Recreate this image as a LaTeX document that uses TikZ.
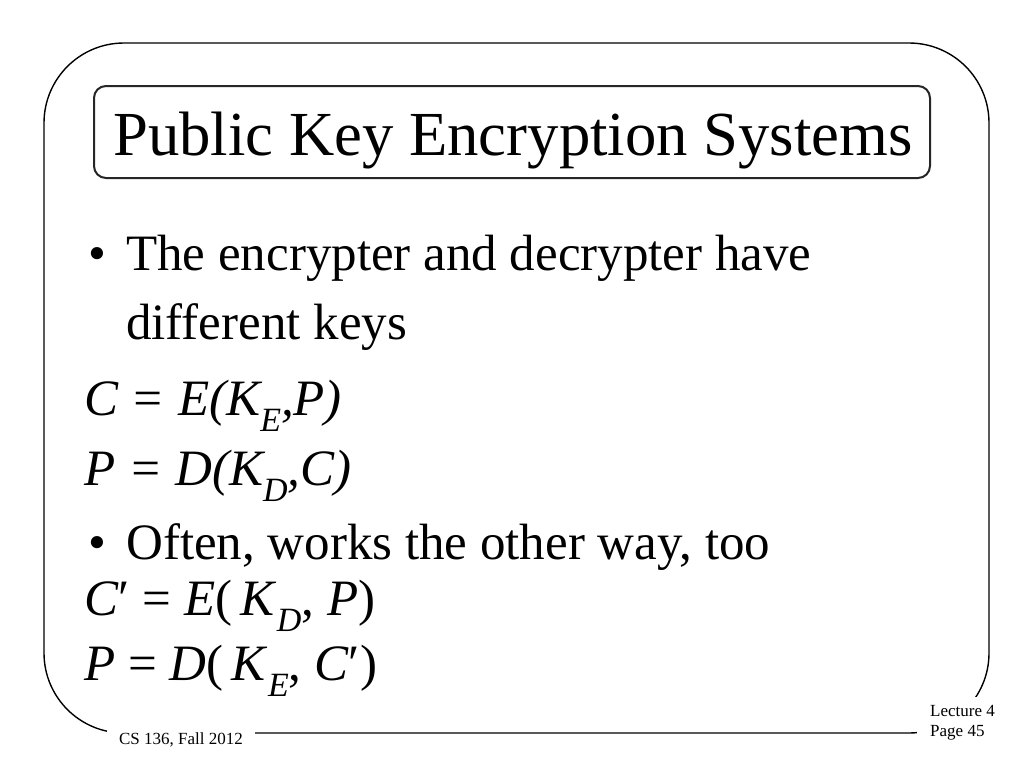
\documentclass[tikz,border=0pt]{standalone}
\usepackage{fontspec}
\setmainfont{Liberation Serif}
\usetikzlibrary{positioning}
\tikzstyle{frame} = [line width=1.4pt, rounded corners=80pt]
\tikzstyle{titlebox} = [line width=2pt, draw=black!85, rounded corners=12pt]
\tikzstyle{body} = [anchor=base west, inner sep=0pt,
                    font=\fontsize{51}{61}\selectfont]
\tikzstyle{footer} = [fill=white, inner xsep=12pt, inner ysep=4pt,
                      font=\fontsize{17}{20}\selectfont, align=left]
\newcommand{\lowsub}[1]{\raisebox{-0.32em}{\fontsize{34}{34}\selectfont #1}}

\begin{document}
\begin{tikzpicture}[x=1pt, y=-1pt]
\useasboundingbox (0,0) rectangle (1024,768);
\draw [frame] (44,43) rectangle (989,733);
\draw [titlebox] (94,86) rectangle (930,178);
\node [body, font=\fontsize{62.7}{70}\selectfont] at (113,155) (title)
	{Public Key Encryption Systems};
\node [body] at (88,270) (bullet_keys) {•};
\node [body] at (126,270) (encrypter) {The encrypter and decrypter have};
\node [body] at (126,339) (keys) {different keys};
\node [body, font=\fontsize{51}{61}\selectfont\itshape] at (84,415) (cipher)
	{C = E(K\lowsub{E},P)};
\node [body, font=\fontsize{51}{61}\selectfont\itshape] at (84,485) (plain)
	{P = D(K\lowsub{D},C)};
\node [body] at (88,559) (bullet_other) {•};
\node [body] at (126,559) (other_way) {Often, works the other way, too};
\node [body] at (84,615) (cipher_prime)
	{\textit{C}′ = \textit{E}(\,\textit{K}\lowsub{\textit{D}}, \textit{P})};
\node [body] at (84,680) (plain_prime)
	{\textit{P} = \textit{D}(\,\textit{K}\lowsub{\textit{E}}, \textit{C}′)};
\node [footer, anchor=base] at (181,744) (course) {CS 136, Fall 2012};
\node [footer, anchor=north west, inner xsep=13pt, inner ysep=8pt]
	at (917,697) (lecture) {Lecture 4\\Page 45};
\end{tikzpicture}
\end{document}
